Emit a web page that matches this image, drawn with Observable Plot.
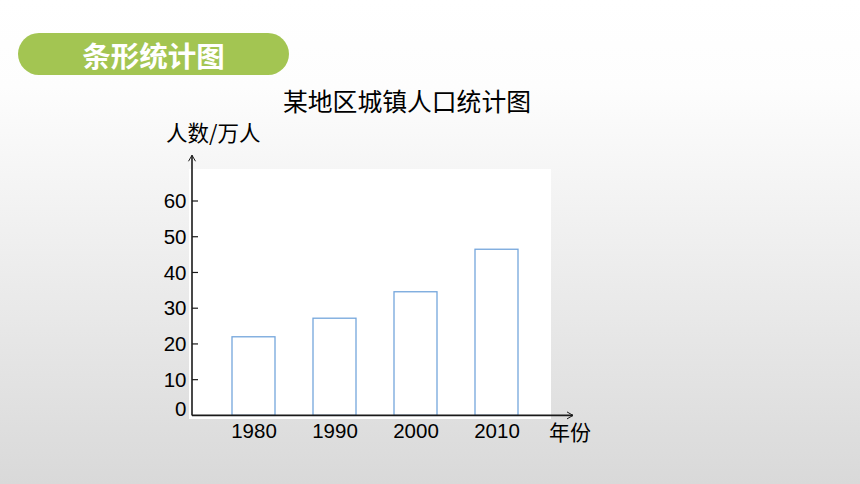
<!DOCTYPE html>
<html><head><meta charset="utf-8">
<script src="https://cdn.jsdelivr.net/npm/d3@7"></script>
<script src="https://cdn.jsdelivr.net/npm/@observablehq/plot@0.6"></script>
<style>
html,body{margin:0;padding:0;}
body{width:860px;height:484px;overflow:hidden;position:relative;background:linear-gradient(to bottom,#ffffff 0%,#fdfdfd 18%,#d9d9d9 100%);font-family:"Liberation Sans",Arial,sans-serif;}
#pill{position:absolute;left:18px;top:33px;width:271px;height:42px;border-radius:21px;background:#a3c552;color:#fff;font:bold 28.5px "Noto Sans CJK SC";display:flex;align-items:center;justify-content:center;}
#panel{position:absolute;left:189px;top:169px;width:362px;height:250px;background:#fff;}
.t{position:absolute;font-family:"Noto Sans CJK SC";color:#000;line-height:1;white-space:nowrap;}
#title{left:283px;top:88px;font-size:24.8px;}
#ylab{left:166px;top:121px;font-size:21.5px;}
#xlab{left:549px;top:421px;font-size:21px;}
#chart{position:absolute;left:0;top:0;}
</style></head>
<body>
<div id="pill">条形统计图</div>
<div id="panel"></div>
<div id="chart"></div>
<div class="t" id="title">某地区城镇人口统计图</div>
<div class="t" id="ylab">人数/万人</div>
<div class="t" id="xlab">年份</div>
<script>
const years = ["1980", "1990", "2000", "2010"];
const population = [22, 27.2, 34.6, 46.5];
const yTicks = [0, 10, 20, 30, 40, 50, 60];
const axisTop = 72.8;

const data = years.map((year, i) => ({year, value: population[i]}));

function axes(index, scales, values, dims) {
  const y = scales.y;
  const x0 = dims.marginLeft, y0 = dims.height - dims.marginBottom;
  const xEnd = dims.width - dims.marginRight + 15;
  const yEnd = y(axisTop);
  const g = d3.create("svg:g").attr("stroke", "#1a1a1a").attr("fill", "none").attr("stroke-width", 1.6);
  g.append("line").attr("x1", x0).attr("x2", x0).attr("y1", y0).attr("y2", yEnd);
  g.append("line").attr("x1", x0).attr("x2", xEnd).attr("y1", y0).attr("y2", y0);
  g.append("path").attr("stroke-width", 1).attr("d", `M${x0-3.5},${yEnd+6}L${x0},${yEnd}L${x0+3.5},${yEnd+6}`);
  g.append("path").attr("stroke-width", 1).attr("d", `M${xEnd-6},${y0-3.5}L${xEnd},${y0}L${xEnd-6},${y0+3.5}`);
  for (const t of yTicks) {
    if (t === 0) continue;
    g.append("line").attr("stroke-width", 1.2).attr("x1", x0).attr("x2", x0 + 6).attr("y1", y(t)).attr("y2", y(t));
  }
  return g.node();
}

const chart = Plot.plot({
  width: 860,
  height: 484,
  marginLeft: 192,
  marginRight: 302,
  marginTop: 201,
  marginBottom: 68.6,
  style: {background: "transparent", fontFamily: "'Liberation Sans', Arial, sans-serif", fontSize: "20.5px", color: "#000", overflow: "visible"},
  x: {domain: years, paddingInner: 0.47, paddingOuter: 0.494, align: 0.5, label: null},
  y: {domain: [0, 60], label: null},
  marks: [
    Plot.barY(data, {x: "year", y: "value", fill: "white", stroke: "#74a6dc", strokeWidth: 1.3}),
    axes,
    Plot.axisX({tickSize: 0, tickPadding: 8, label: null, fill: "#000"}),
    Plot.axisY({ticks: yTicks.filter(t => t > 0), tickSize: 0, tickPadding: 6, label: null, fill: "#000"}),
    Plot.axisY({ticks: yTicks.filter(t => t === 0), tickSize: 0, tickPadding: 6, dy: -6, label: null, fill: "#000"})
  ]
});
document.getElementById("chart").appendChild(chart);
</script>
</body></html>
